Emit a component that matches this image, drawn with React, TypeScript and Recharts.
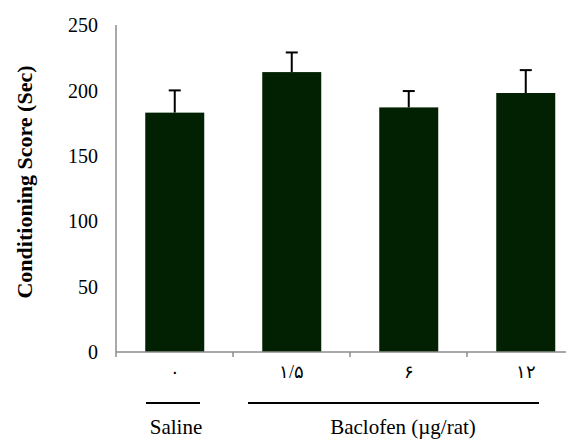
import { BarChart, Bar, XAxis, YAxis, Customized } from 'recharts';

const doses = ['۰', '۱/۵', '۶', '۱۲'];
const scores = [183, 214, 187, 198];
const sem = [17, 15, 12.5, 17.5];
const yTicks = [0, 50, 100, 150, 200, 250];

const data = doses.map((dose, i) => ({ dose, score: scores[i], sem: sem[i] }));

const W = 576;
const H = 431;
const LEFT = 108;
const TOP = 17;
const BOTTOM_Y = 344;
const BAND = 117;

const font = '"Liberation Serif", "Times New Roman", serif';

// bar plus an upward-only error whisker, sized from the bar's own pixel scale
function BarWithError(props: any) {
    const { x, y, width, height, payload } = props;
    const pxPerUnit = height / payload.score;
    const top = y - payload.sem * pxPerUnit;
    const cx = x + width / 2;
    return (
        <g>
            <rect x={x} y={y} width={width} height={height} fill="#022103" />
            <line x1={cx} x2={cx} y1={y} y2={top} stroke="#000" strokeWidth={2} />
            <line x1={cx - 6} x2={cx + 6} y1={top} y2={top} stroke="#000" strokeWidth={2} />
        </g>
    );
}

function Overlay() {
    return (
        <g>
            {[0, 1, 2, 3, 4].map((i) => (
                <line key={i} x1={LEFT + i * BAND} x2={LEFT + i * BAND} y1={BOTTOM_Y} y2={BOTTOM_Y + 5} stroke="#8c8c8c" strokeWidth={1.5} />
            ))}
            <line x1={LEFT + 30} x2={LEFT + 84} y1={395} y2={395} stroke="#000" strokeWidth={2} />
            <line x1={LEFT + 132} x2={LEFT + 423} y1={395} y2={395} stroke="#000" strokeWidth={2} />
            <text x={LEFT + 60} y={426} textAnchor="middle" fontFamily={font} fontSize={21} fill="#000">Saline</text>
            <text x={LEFT + 287} y={426} textAnchor="middle" fontFamily={font} fontSize={21} fill="#000">Baclofen (µg/rat)</text>
            <text
                x={16}
                y={174}
                transform="rotate(-90 16 174)"
                textAnchor="middle"
                dominantBaseline="central"
                fontFamily={font}
                fontSize={22}
                fontWeight="bold"
                fill="#000"
            >
                Conditioning Score (Sec)
            </text>
        </g>
    );
}

export default function App() {
    return (
        <div style={{ width: 566, height: H, overflow: 'hidden' }}>
            <BarChart
                width={W}
                height={H}
                data={data}
                margin={{ top: TOP, right: 0, bottom: H - BOTTOM_Y - 30, left: LEFT - 60 }}
                barCategoryGap="25%"
            >
                <XAxis
                    dataKey="dose"
                    height={30}
                    interval={0}
                    tickLine={false}
                    tickSize={5}
                    tickMargin={8}
                    axisLine={{ stroke: '#8c8c8c', strokeWidth: 1.5 }}
                    tick={{ fill: '#000', fontSize: 18, fontFamily: font }}
                />
                <YAxis
                    width={60}
                    domain={[0, 250]}
                    ticks={yTicks}
                    tickLine={false}
                    tickSize={8}
                    tickMargin={10}
                    axisLine={{ stroke: '#8c8c8c', strokeWidth: 1.5 }}
                    tick={{ fill: '#000', fontSize: 20, fontFamily: font }}
                />
                <Bar dataKey="score" fill="#022103" isAnimationActive={false} shape={<BarWithError />} />
                <Customized component={<Overlay />} />
            </BarChart>
        </div>
    );
}
